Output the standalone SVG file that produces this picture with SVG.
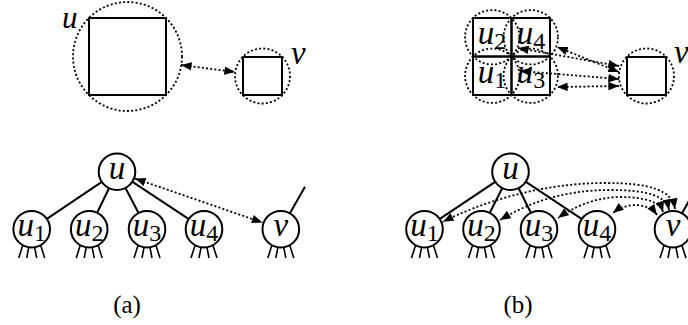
<svg xmlns="http://www.w3.org/2000/svg" width="688" height="325" viewBox="0 0 688 325">
<style>
.sq{fill:none;stroke:#000;stroke-width:2}
.dc{fill:none;stroke:#000;stroke-width:1.8;stroke-dasharray:2 2.2}
.nd{fill:#fff;stroke:#000;stroke-width:2}
.ed{stroke:#000;stroke-width:2;fill:none}
.tk{stroke:#000;stroke-width:1.6;fill:none}
.da{fill:none;stroke:#000;stroke-width:1.8;stroke-dasharray:2 2.2;marker-start:url(#ah);marker-end:url(#ah)}
text{font-family:'Liberation Serif','DejaVu Serif',serif;fill:#000}
.m{font-style:italic;font-size:33px}
.s{font-style:normal;font-size:24px}
.cap{font-size:25px}
</style>
<defs>
<marker id="ah" viewBox="0 0 10 8" refX="10" refY="4" markerWidth="11" markerHeight="8.5" orient="auto-start-reverse" markerUnits="userSpaceOnUse"><path d="M0,0 L10,4 L0,8 z" fill="#000"/></marker>
</defs>

<!-- Top (a) -->
<g id="a-u">
<circle class="dc" cx="127.5" cy="56.5" r="54.5"/>
<rect class="sq" x="89" y="18" width="77" height="77"/>
<text class="m" x="62" y="28.2" style="font-size:31px">u</text>
</g>
<g id="a-v">
<circle class="dc" cx="262.5" cy="76" r="27.5"/>
<rect class="sq" x="243" y="57" width="39" height="38"/>
<text class="m" x="291" y="64">v</text>
</g>

<!-- Top (b) -->
<g id="b-u2">
<circle class="dc" cx="492.25" cy="37.25" r="27.2"/>
<rect class="sq" x="473" y="18" width="38.5" height="38.5"/>
<text x="492" y="44" text-anchor="middle"><tspan class="m">u</tspan><tspan class="s" dy="5">2</tspan></text>
</g>
<g id="b-u4">
<circle class="dc" cx="530.75" cy="37.25" r="27.2"/>
<rect class="sq" x="511.5" y="18" width="38.5" height="38.5"/>
<text x="531" y="44" text-anchor="middle"><tspan class="m">u</tspan><tspan class="s" dy="5">4</tspan></text>
</g>
<g id="b-u1">
<circle class="dc" cx="492.25" cy="75.75" r="27.2"/>
<rect class="sq" x="473" y="56.5" width="38.5" height="38.5"/>
<text x="492" y="83" text-anchor="middle"><tspan class="m">u</tspan><tspan class="s" dy="5">1</tspan></text>
</g>
<g id="b-u3">
<circle class="dc" cx="530.75" cy="75.75" r="27.2"/>
<rect class="sq" x="511.5" y="56.5" width="38.5" height="38.5"/>
<text x="531" y="83" text-anchor="middle"><tspan class="m">u</tspan><tspan class="s" dy="5">3</tspan></text>
</g>
<g id="b-v">
<circle class="dc" cx="646.5" cy="76" r="27.5"/>
<rect class="sq" x="627" y="57" width="39" height="38"/>
<text class="m" x="674" y="63">v</text>
</g>

<!-- Connectors -->
<g id="connectors">
<line class="da" x1="181" y1="65" x2="235" y2="72"/>
<line class="da" x1="619" y1="66" x2="518" y2="48"/>
<line class="da" x1="619" y1="72" x2="557" y2="47"/>
<line class="da" x1="619" y1="79" x2="520" y2="71"/>
<line class="da" x1="619" y1="86" x2="557" y2="87"/>

<line class="ed" x1="117" y1="171.7" x2="31.7" y2="229.2"/>
<line class="ed" x1="117" y1="171.7" x2="89.2" y2="229.2"/>
<line class="ed" x1="117" y1="171.7" x2="147" y2="229.2"/>
<line class="ed" x1="117" y1="171.7" x2="204" y2="229.2"/>
<line class="ed" x1="280.8" y1="229.2" x2="305" y2="186.7"/>
<line class="da" x1="135" y1="178.5" x2="262.5" y2="222.5"/>

<line class="ed" x1="510.5" y1="171.7" x2="424.5" y2="229.2"/>
<line class="ed" x1="510.5" y1="171.7" x2="481.5" y2="229.2"/>
<line class="ed" x1="510.5" y1="171.7" x2="539" y2="229.2"/>
<line class="ed" x1="510.5" y1="171.7" x2="597" y2="229.2"/>
<line class="ed" x1="673" y1="229.2" x2="697" y2="186.7"/>

<path class="tk" d="M22.7,245.6L18.7,258M28.7,247.6L26.7,258M34.7,247.6L36.7,258M40.7,245.6L44.7,258
M80.2,245.6L76.2,258M86.2,247.6L84.2,258M92.2,247.6L94.2,258M98.2,245.6L102.2,258
M138,245.6L134,258M144,247.6L142,258M150,247.6L152,258M156,245.6L160,258
M195,245.6L191,258M201,247.6L199,258M207,247.6L209,258M213,245.6L217,258
M271.8,245.6L267.8,258M277.8,247.6L275.8,258M283.8,247.6L285.8,258M289.8,245.6L293.8,258
M415.5,245.6L411.5,258M421.5,247.6L419.5,258M427.5,247.6L429.5,258M433.5,245.6L437.5,258
M472.5,245.6L468.5,258M478.5,247.6L476.5,258M484.5,247.6L486.5,258M490.5,245.6L494.5,258
M530,245.6L526,258M536,247.6L534,258M542,247.6L544,258M548,245.6L552,258
M588,245.6L584,258M594,247.6L592,258M600,247.6L602,258M606,245.6L610,258
M664,245.6L660,258M670,247.6L668,258M676,247.6L678,258M682,245.6L686,258"/>
</g>

<g id="ta-u"><circle class="nd" cx="117" cy="171.7" r="18.3"/><text class="m" x="117" y="178.5" text-anchor="middle">u</text></g>
<g id="ta-u1"><circle class="nd" cx="31.7" cy="229.2" r="18.3"/><text x="31.7" y="236" text-anchor="middle"><tspan class="m">u</tspan><tspan class="s" dy="5">1</tspan></text></g>
<g id="ta-u2"><circle class="nd" cx="89.2" cy="229.2" r="18.3"/><text x="89.2" y="236" text-anchor="middle"><tspan class="m">u</tspan><tspan class="s" dy="5">2</tspan></text></g>
<g id="ta-u3"><circle class="nd" cx="147" cy="229.2" r="18.3"/><text x="147" y="236" text-anchor="middle"><tspan class="m">u</tspan><tspan class="s" dy="5">3</tspan></text></g>
<g id="ta-u4"><circle class="nd" cx="204" cy="229.2" r="18.3"/><text x="204" y="236" text-anchor="middle"><tspan class="m">u</tspan><tspan class="s" dy="5">4</tspan></text></g>
<g id="ta-v"><circle class="nd" cx="280.8" cy="229.2" r="18.3"/><text class="m" x="280.8" y="236" text-anchor="middle">v</text></g>

<g id="tb-u"><circle class="nd" cx="510.5" cy="171.7" r="18.3"/><text class="m" x="510.5" y="178.5" text-anchor="middle">u</text></g>
<g id="tb-u1"><circle class="nd" cx="424.5" cy="229.2" r="18.3"/><text x="424.5" y="236" text-anchor="middle"><tspan class="m">u</tspan><tspan class="s" dy="5">1</tspan></text></g>
<g id="tb-u2"><circle class="nd" cx="481.5" cy="229.2" r="18.3"/><text x="481.5" y="236" text-anchor="middle"><tspan class="m">u</tspan><tspan class="s" dy="5">2</tspan></text></g>
<g id="tb-u3"><circle class="nd" cx="539" cy="229.2" r="18.3"/><text x="539" y="236" text-anchor="middle"><tspan class="m">u</tspan><tspan class="s" dy="5">3</tspan></text></g>
<g id="tb-u4"><circle class="nd" cx="597" cy="229.2" r="18.3"/><text x="597" y="236" text-anchor="middle"><tspan class="m">u</tspan><tspan class="s" dy="5">4</tspan></text></g>
<g id="tb-v"><circle class="nd" cx="673" cy="229.2" r="18.3"/><text class="m" x="673" y="236" text-anchor="middle">v</text></g>

<g id="connectors-b">
<path class="da" d="M675,209 C672,190 650,183 605,183 C540,183 480,203 443,221.7"/>
<path class="da" d="M669,210 C666,195 645,190 610,190 C560,190 525,205 500,220"/>
<path class="da" d="M663,212 C660,202 645,197 620,197 C595,197 572,208 558,218"/>
<path class="da" d="M657,215 C652,208 643,205 635,205 C627,205 618,209 613,213"/>
</g>

<text class="cap" x="127" y="313" text-anchor="middle">(a)</text>
<text class="cap" x="518" y="313" text-anchor="middle">(b)</text>
</svg>
